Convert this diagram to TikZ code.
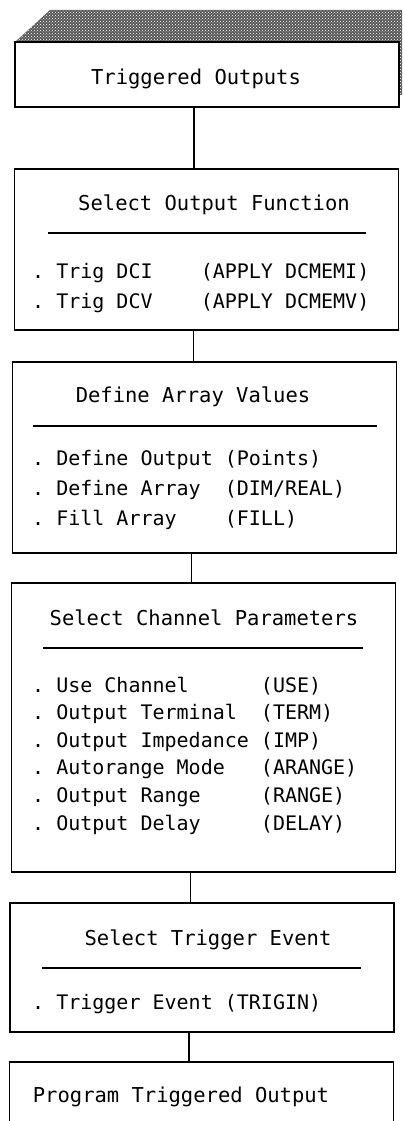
\documentclass[tikz,border=0pt]{standalone}
\usepackage{fontspec}
\setmonofont{DejaVu Sans Mono}
\usetikzlibrary{positioning, patterns}

\begin{document}
\frenchspacing
\begin{tikzpicture}[
    x=1pt, y=-1pt,
    box/.style={draw, line width=1.2pt, minimum width=384pt, inner sep=0pt},
    heading/.style={font=\ttfamily\fontsize{20.5}{30}\selectfont, inner sep=0pt, anchor=base},
    steps/.style={font=\ttfamily\fontsize{20}{30}\selectfont, inner sep=0pt, anchor=base west},
    divider/.style={line width=1.2pt},
    link/.style={line width=1.3pt}
]
    \clip (0,0) rectangle (402,1121);

    % shaded bar over the first box
    \fill[black!65] (15,42) -- (50,10) -- (402,10) -- (402,95) -- (399,95) -- (399,42) -- cycle;
    \fill[pattern=crosshatch dots, pattern color=white] (15,42) -- (50,10) -- (402,10) -- (402,95) -- (399,95) -- (399,42) -- cycle;

    \node[box, fill=white, minimum height=65pt] (trig) at (207,74.5) {};
    \node[heading] (trigtitle) at (196,85) {Triggered Outputs};

    \node[box, minimum height=161pt] (func) at (206.5,249.5) {};
    \node[heading] (functitle) at (214,210) {Select Output Function};
    \draw[divider] (48,233) -- (366,233);
    \node[steps] (funclist) at (32,278) {\begin{tabular}[t]{@{}l@{}}
        . Trig DCI~~~~(APPLY DCMEMI)\\
        . Trig DCV~~~~(APPLY DCMEMV)
    \end{tabular}};

    \node[box, minimum height=191pt] (array) at (204.5,457.5) {};
    \node[heading] (arraytitle) at (193,402) {Define Array Values};
    \draw[divider] (33,426) -- (377,426);
    \node[steps] (arraylist) at (32,465) {\begin{tabular}[t]{@{}l@{}}
        . Define Output (Points)\\
        . Define Array~~(DIM/REAL)\\
        . Fill Array~~~~(FILL)
    \end{tabular}};

    \node[box, minimum height=289pt] (chan) at (203.5,727.5) {};
    \node[heading] (chantitle) at (204,625) {Select Channel Parameters};
    \draw[divider] (43,648) -- (363,648);
    \node[steps, font=\ttfamily\fontsize{20}{27.6}\selectfont] (chanlist) at (32,692) {\begin{tabular}[t]{@{}l@{}}
        . Use Channel~~~~~~(USE)\\
        . Output Terminal~~(TERM)\\
        . Output Impedance (IMP)\\
        . Autorange Mode~~~(ARANGE)\\
        . Output Range~~~~~(RANGE)\\
        . Output Delay~~~~~(DELAY)
    \end{tabular}};

    \node[box, minimum height=129pt] (event) at (202,967.5) {};
    \node[heading] (eventtitle) at (208,945) {Select Trigger Event};
    \draw[divider] (42,968) -- (361,968);
    \node[steps] (eventlist) at (32,1009) {. Trigger Event (TRIGIN)};

    \node[box, minimum height=120pt] (prog) at (201.5,1122) {};
    \node[heading] (progtitle) at (181,1102) {Program Triggered Output};

    % connectors
    \draw[link] ([xshift=-13pt]trig.south) -- ([xshift=-13pt]trig.south |- func.north);
    \draw[link] ([xshift=-13pt]func.south) -- ([xshift=-13pt]func.south |- array.north);
    \draw[link] ([xshift=-13pt]array.south) -- ([xshift=-13pt]array.south |- chan.north);
    \draw[link] ([xshift=-13pt]chan.south) -- ([xshift=-13pt]chan.south |- event.north);
    \draw[link] ([xshift=-13pt]event.south) -- ([xshift=-13pt]event.south |- prog.north);
\end{tikzpicture}
\end{document}
